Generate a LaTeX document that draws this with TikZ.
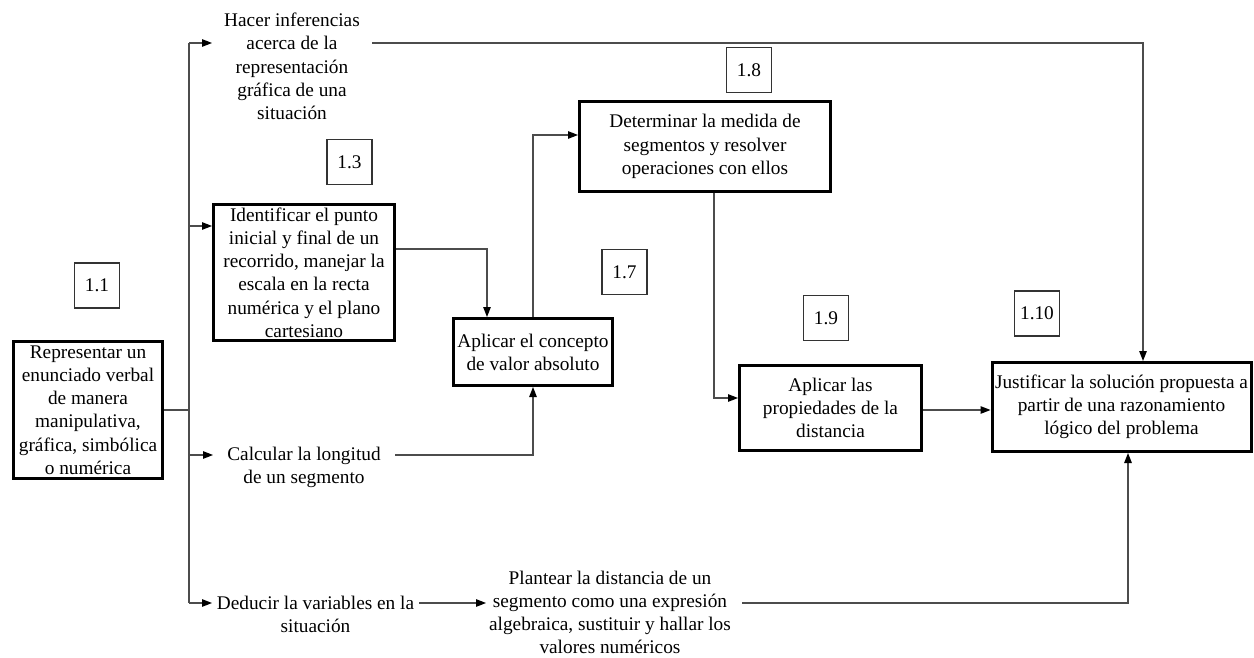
\documentclass[tikz,border=0pt]{standalone}
\usepackage{fontspec}
\setmainfont{Liberation Serif}
\usetikzlibrary{arrows.meta}

\tikzset{
  every node/.style={font=\fontsize{19.3}{23.2}\selectfont, align=center, inner sep=0pt},
  mainbox/.style={draw=black, line width=3pt, minimum width=#1},
  numbox/.style={draw=black!80, line width=1.1pt, minimum width=45pt, minimum height=45pt},
  label/.style={},
  conn/.style={draw=black!70, line width=1.3pt},
  arr/.style={conn, -{Triangle[length=10pt,width=7.5pt,black]}},
}

\begin{document}
\begin{tikzpicture}[x=1pt,y=-1pt]
\useasboundingbox (0,0) rectangle (1254,658);

% step numbers
\node[numbox] (n11)  at (97,285.5)   {1.1};
\node[numbox] (n13)  at (349.5,162)  {1.3};
\node[numbox] (n17)  at (624.5,272)  {1.7};
\node[numbox] (n18)  at (749,70)     {1.8};
\node[numbox] (n19)  at (826,318)    {1.9};
\node[numbox] (n110) at (1037,313.5) {1.10};

% main boxes
\node[mainbox=149pt, minimum height=137pt] (rep) at (88,410)
  {Representar un\\enunciado verbal\\de manera\\manipulativa,\\gráfica, simbólica\\o numérica};
\node[mainbox=181pt, minimum height=136pt] (ident) at (304,272.5)
  {Identificar el punto\\inicial y final de un\\recorrido, manejar la\\escala en la recta\\numérica y el plano\\cartesiano};
\node[mainbox=159pt, minimum height=67pt] (abs) at (533,352)
  {Aplicar el concepto\\de valor absoluto};
\node[mainbox=251pt, minimum height=90pt] (det) at (705,146.5)
  {Determinar la medida de\\segmentos y resolver\\operaciones con ellos};
\node[mainbox=182pt, minimum height=85pt] (prop) at (830.5,408)
  {Aplicar las\\propiedades de la\\distancia};
\node[mainbox=259pt, minimum height=89pt] (just) at (1121.5,407)
  {Justificar la solución propuesta a\\partir de una razonamiento\\lógico del problema};

% free-standing statements
\node[label] (hacer) at (292,66.5)
  {Hacer inferencias\\acerca de la\\representación\\gráfica de una\\situación};
\node[label] (calc) at (304,467.5)
  {Calcular la longitud\\de un segmento};
\node[label] (deduc) at (315.5,614)
  {Deducir la variables en la\\situación};
\node[label] (plant) at (610,612.5)
  {Plantear la distancia de un\\segmento como una expresión\\algebraica, sustituir y hallar los\\valores numéricos};

% connection points beside the statements
\coordinate (hacerL) at (212,43);
\coordinate (hacerR) at (372,43);
\coordinate (calcL)  at (213,455);
\coordinate (calcR)  at (395,455);
\coordinate (deducL) at (212,603);
\coordinate (deducR) at (419,603);
\coordinate (plantL) at (486,603);
\coordinate (plantR) at (742,603);
\coordinate (spine)  at (189,410);
\coordinate (identIn) at ([yshift=46.5pt]ident.west);

% branching spine
\draw[conn] (rep.east) -- (spine);
\draw[conn] (spine |- hacerL) -- (spine |- deducL);
\draw[arr] (spine |- hacerL) -- (hacerL);
\draw[arr] (spine |- identIn) -- (identIn);
\draw[arr] (spine |- calcL) -- (calcL);
\draw[arr] (spine |- deducL) -- (deducL);

% flows between steps
\draw[arr] ([yshift=23.5pt]ident.east) -| ([xshift=-46pt]abs.north);
\draw[arr] (abs.north) |- ([yshift=11.5pt]det.west);
\draw[arr] (calcR) -| (abs.south);
\draw[arr] ([xshift=9pt]det.south) |- ([yshift=10pt]prop.west);
\draw[arr] ([yshift=-2pt]prop.east) -- ([yshift=-2pt]prop.east -| just.west);
\draw[arr] (hacerR) -| ([xshift=21.5pt]just.north);
\draw[arr] (deducR) -- (plantL);
\draw[arr] (plantR) -| ([xshift=6.5pt]just.south);
\end{tikzpicture}
\end{document}
